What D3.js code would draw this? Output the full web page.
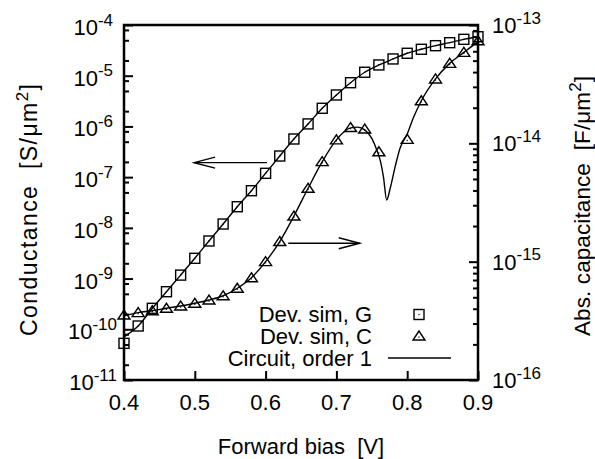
<!DOCTYPE html>
<html>
<head>
<meta charset="utf-8">
<script src="https://cdn.jsdelivr.net/npm/d3@7/dist/d3.min.js"></script>
<style>
  html, body { margin: 0; padding: 0; background: #fff; }
  svg { display: block; }
  text { font-family: "Liberation Sans", Arial, sans-serif; fill: #000; white-space: pre; }
</style>
</head>
<body>
<svg id="chart" width="595" height="459"></svg>
<script>
// ---------- data ----------
const xTicks = [0.4, 0.5, 0.6, 0.7, 0.8, 0.9];
const leftExps = [-4, -5, -6, -7, -8, -9, -10, -11];
const rightExps = [-13, -14, -15, -16];
const leftMinorMult = [2, 5, 8];
const rightMinorMult = [2, 3, 4, 5, 6, 7, 8, 9];

// Device simulation, conductance G [S/um^2]
const simGBias = [0.40, 0.42, 0.44, 0.46, 0.48, 0.50, 0.52, 0.54, 0.56, 0.58, 0.60, 0.62, 0.64,
                  0.66, 0.68, 0.70, 0.72, 0.74, 0.76, 0.78, 0.80, 0.82, 0.84, 0.86, 0.88, 0.90];
const simG = [5.28e-11, 1.16e-10, 2.59e-10, 5.51e-10, 1.17e-9, 2.51e-9, 5.51e-9, 1.19e-8, 2.61e-8,
              5.40e-8, 1.19e-7, 2.61e-7, 5.65e-7, 1.12e-6, 2.28e-6, 4.17e-6, 7.28e-6, 1.17e-5,
              1.63e-5, 2.14e-5, 2.77e-5, 3.32e-5, 3.91e-5, 4.48e-5, 5.22e-5, 5.87e-5];

// Device simulation, abs. capacitance C [F/um^2]
const simCBias = [0.40, 0.42, 0.44, 0.46, 0.48, 0.50, 0.52, 0.54, 0.56, 0.58, 0.60, 0.62, 0.64,
                  0.66, 0.68, 0.70, 0.72, 0.74, 0.76, 0.80, 0.82, 0.84, 0.86, 0.88, 0.90];
const simC = [3.54e-16, 3.71e-16, 3.85e-16, 4.04e-16, 4.22e-16, 4.45e-16, 4.74e-16, 5.15e-16,
              5.96e-16, 7.31e-16, 1.00e-15, 1.48e-15, 2.43e-15, 4.17e-15, 7.00e-15, 1.07e-14,
              1.36e-14, 1.32e-14, 8.49e-15, 1.08e-14, 2.29e-14, 3.50e-14, 4.74e-14, 5.87e-14, 7.36e-14];

// Circuit model, order 1
const circGBias = simGBias;
const circG = [7.10e-11, 1.16e-10, 2.59e-10, 5.51e-10, 1.17e-9, 2.51e-9, 5.51e-9, 1.19e-8, 2.61e-8,
               5.40e-8, 1.19e-7, 2.61e-7, 5.65e-7, 1.12e-6, 2.28e-6, 4.17e-6, 7.28e-6, 1.17e-5,
               1.63e-5, 2.14e-5, 2.77e-5, 3.32e-5, 3.91e-5, 4.48e-5, 5.22e-5, 5.87e-5];
const circCBias = [0.40, 0.42, 0.44, 0.46, 0.48, 0.50, 0.52, 0.54, 0.56, 0.58, 0.60, 0.62, 0.64,
                   0.66, 0.68, 0.70, 0.72, 0.73, 0.74, 0.75, 0.757, 0.762, 0.7665, 0.771, 0.776,
                   0.783, 0.790, 0.800, 0.809, 0.82, 0.84, 0.86, 0.88, 0.90];
const circC = [3.48e-16, 3.71e-16, 3.85e-16, 4.04e-16, 4.22e-16, 4.45e-16, 4.74e-16, 5.15e-16,
               5.96e-16, 7.31e-16, 1.00e-15, 1.48e-15, 2.43e-15, 4.17e-15, 7.00e-15, 1.07e-14,
               1.35e-14, 1.37e-14, 1.30e-14, 1.10e-14, 8.79e-15, 7.14e-15, 5.19e-15, 3.32e-15,
               4.17e-15, 6.35e-15, 9.12e-15, 1.20e-14, 1.66e-14, 2.29e-14, 3.50e-14, 4.74e-14,
               5.87e-14, 7.24e-14];

// Arrow annotations (data coordinates)
const arrowG = { from: [0.602, 1.93e-7], to: [0.499, 1.93e-7] };
const arrowC = { from: [0.632, 1.43e-15], to: [0.733, 1.43e-15] };

const legendLabels = ["Dev. sim, G", "Dev. sim, C", "Circuit, order 1"];

// ---------- layout ----------
const W = 595, H = 459;
const L = 124, R = 478, T = 25, B = 380;
const svg = d3.select("#chart");

const x = d3.scaleLinear().domain([0.4, 0.9]).range([L, R]);
const yG = d3.scaleLog().domain([1e-11, 1e-4]).range([B, T]);
const yC = d3.scaleLog().domain([1e-16, 1e-13]).range([B, T]);

const FS = 22, SUP = 17;

// ---------- axes ticks ----------
const leftMajor = leftExps.map(e => Math.pow(10, e));
const leftMinor = [];
for (let e = -11; e < -4; e++) leftMinorMult.forEach(k => leftMinor.push(k * Math.pow(10, e)));
const rightMajor = rightExps.map(e => Math.pow(10, e));
const rightMinor = [];
for (let e = -16; e < -13; e++) rightMinorMult.forEach(k => rightMinor.push(k * Math.pow(10, e)));

function styleAxis(g) {
  g.select(".domain").remove();
  g.selectAll("line").attr("stroke", "#000").attr("stroke-width", 2);
  g.selectAll("text").remove();
}

svg.append("g").attr("transform", `translate(${L},0)`)
  .call(d3.axisLeft(yG).tickValues(leftMajor).tickSize(-9).tickFormat("")).call(styleAxis);
svg.append("g").attr("transform", `translate(${L},0)`)
  .call(d3.axisLeft(yG).tickValues(leftMinor).tickSize(-5).tickFormat("")).call(styleAxis);
svg.append("g").attr("transform", `translate(${R},0)`)
  .call(d3.axisRight(yC).tickValues(rightMajor).tickSize(-9).tickFormat("")).call(styleAxis);
svg.append("g").attr("transform", `translate(${R},0)`)
  .call(d3.axisRight(yC).tickValues(rightMinor).tickSize(-5).tickFormat("")).call(styleAxis);
svg.append("g").attr("transform", `translate(0,${B})`)
  .call(d3.axisBottom(x).tickValues(xTicks).tickSize(-9).tickFormat("")).call(styleAxis);

// frame
svg.append("rect").attr("x", L).attr("y", T).attr("width", R - L).attr("height", B - T)
  .attr("fill", "none").attr("stroke", "#000").attr("stroke-width", 2.5);

// ---------- tick labels ----------
function powLabel(sel, exp) {
  sel.append("tspan").text("10");
  sel.append("tspan").attr("dy", -9.5).attr("font-size", SUP).text(String(exp));
}
leftExps.forEach(e => {
  const t = svg.append("text").attr("x", e <= -10 ? 117 : 113).attr("y", yG(Math.pow(10, e)) + 10)
    .attr("text-anchor", "end").attr("font-size", FS);
  powLabel(t, e);
});
rightExps.forEach(e => {
  const t = svg.append("text").attr("x", 492).attr("y", yC(Math.pow(10, e)) + 8)
    .attr("text-anchor", "start").attr("font-size", FS);
  powLabel(t, e);
});
xTicks.forEach(v => {
  svg.append("text").attr("x", x(v)).attr("y", 410).attr("text-anchor", "middle")
    .attr("font-size", FS).text(v.toFixed(1));
});

// ---------- axis titles ----------
svg.append("text").attr("x", 301).attr("y", 454).attr("text-anchor", "middle")
  .attr("font-size", FS).text("Forward bias  [V]");

function unitTitle(bx, cy, main, unitHead, fs, len) {
  const t = svg.append("text").attr("transform", `translate(${bx},${cy}) rotate(-90)`)
    .attr("text-anchor", "middle").attr("font-size", fs)
    .attr("textLength", len).attr("lengthAdjust", "spacing");
  t.append("tspan").text(main + "  [" + unitHead);
  t.append("tspan").attr("dy", -9.5).attr("font-size", SUP).text("2");
  t.append("tspan").attr("dy", 9.5).text("]");
}
unitTitle(37, 210, "Conductance", "S/\u03bcm", 23, 252);
unitTitle(590, 206, "Abs. capacitance", "F/\u03bcm", 22.5, 260);

// ---------- series ----------
const lineG = d3.line().x(d => x(d[0])).y(d => yG(d[1])).curve(d3.curveMonotoneX);
const lineC = d3.line().x(d => x(d[0])).y(d => yC(d[1])).curve(d3.curveMonotoneX);

svg.append("path").datum(circGBias.map((v, i) => [v, circG[i]]))
  .attr("d", lineG).attr("fill", "none").attr("stroke", "#000").attr("stroke-width", 1.4);
svg.append("path").datum(circCBias.map((v, i) => [v, circC[i]]))
  .attr("d", lineC).attr("fill", "none").attr("stroke", "#000").attr("stroke-width", 1.4);

function square(g, cx, cy) {
  g.append("rect").attr("x", cx - 5).attr("y", cy - 5).attr("width", 10).attr("height", 10)
    .attr("fill", "none").attr("stroke", "#000").attr("stroke-width", 1.4);
  g.append("rect").attr("x", cx - 0.6).attr("y", cy - 0.6).attr("width", 1.2).attr("height", 1.2).attr("fill", "#000");
}
function triangle(g, cx, cy) {
  g.append("path").attr("d", `M${cx},${cy - 5}L${cx - 6},${cy + 4}L${cx + 6},${cy + 4}Z`)
    .attr("fill", "none").attr("stroke", "#000").attr("stroke-width", 1.4);
  g.append("rect").attr("x", cx - 0.6).attr("y", cy + 0.5).attr("width", 1.2).attr("height", 1.2).attr("fill", "#000");
}

const gMarks = svg.append("g");
simGBias.forEach((v, i) => square(gMarks, x(v), yG(simG[i])));
const cMarks = svg.append("g");
simCBias.forEach((v, i) => triangle(cMarks, x(v), yC(simC[i])));

// ---------- arrows ----------
function arrow(a, ys) {
  const x1 = x(a.from[0]), y1 = ys(a.from[1]), x2 = x(a.to[0]), y2 = ys(a.to[1]);
  const dir = Math.sign(x2 - x1);
  const g = svg.append("g").attr("fill", "none").attr("stroke", "#000").attr("stroke-width", 1.4);
  g.append("line").attr("x1", x1).attr("y1", y1).attr("x2", x2).attr("y2", y2);
  g.append("path").attr("d", `M${x2 - dir * 21},${y2 - 5.5}L${x2},${y2}L${x2 - dir * 21},${y2 + 5.5}`);
}
arrow(arrowG, yG);
arrow(arrowC, yC);

// ---------- legend ----------
const legY = [321.5, 344, 366];
legendLabels.forEach((s, i) => {
  svg.append("text").attr("x", 372).attr("y", legY[i]).attr("text-anchor", "end")
    .attr("font-size", FS).text(s);
});
const lg = svg.append("g");
square(lg, 419, legY[0] - 7);
triangle(lg, 419, legY[1] - 8);
lg.append("line").attr("x1", 388).attr("x2", 451).attr("y1", legY[2] - 8).attr("y2", legY[2] - 8)
  .attr("stroke", "#000").attr("stroke-width", 1.4);
</script>
</body>
</html>
